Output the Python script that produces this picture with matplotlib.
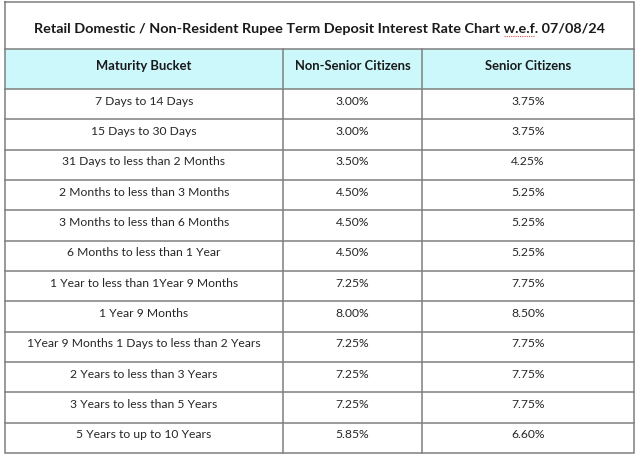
import matplotlib
matplotlib.use("Agg")
import matplotlib.pyplot as plt
from matplotlib.patches import Rectangle

title = "Retail Domestic / Non-Resident Rupee Term Deposit Interest Rate Chart w.e.f. 07/08/24"
headers = ["Maturity Bucket", "Non-Senior Citizens", "Senior Citizens"]
buckets = [
    "7 Days to 14 Days",
    "15 Days to 30 Days",
    "31 Days to less than 2 Months",
    "2 Months to less than 3 Months",
    "3 Months to less than 6 Months",
    "6 Months to less than 1 Year",
    "1 Year to less than 1Year 9 Months",
    "1 Year 9 Months",
    "1Year 9 Months 1 Days to less than 2 Years",
    "2 Years to less than 3 Years",
    "3 Years to less than 5 Years",
    "5 Years to up to 10 Years",
]
non_senior = [3.00, 3.00, 3.50, 4.50, 4.50, 4.50, 7.25, 8.00, 7.25, 7.25, 7.25, 5.85]
senior = [3.75, 3.75, 4.25, 5.25, 5.25, 5.25, 7.75, 8.50, 7.75, 7.75, 7.75, 6.60]

FONT = ["Lato", "DejaVu Sans"]
W, H = 640, 460
fig = plt.figure(figsize=(W / 100, H / 100), dpi=100)
ax = fig.add_axes([0, 0, 1, 1])
ax.set_xlim(0, W)
ax.set_ylim(H, 0)
ax.axis("off")

left, right = 5, 634
top, head_top, head_bot, bottom = 3, 50, 90, 454
cols = [left, 283, 422, right]
n = len(buckets)
rh = (bottom - head_bot) / n
line_c = "#7f7f7f"
lw = 1.1

# header fill
ax.add_patch(Rectangle((left, head_top), right - left, head_bot - head_top,
                       facecolor="#CCF7FB", edgecolor="none", zorder=0))

# title
ax.text((left + right) / 2, 29, title, ha="center", va="center",
        fontsize=10.4, fontweight="bold", color="#1a1a1a", family=FONT)

# headers
for i, h in enumerate(headers):
    cx = (cols[i] + cols[i + 1]) / 2
    ax.text(cx, 66, h, ha="center", va="center", fontsize=9.4,
            fontweight="bold", color="#1a1a1a", family=FONT)

# rows
for r in range(n):
    y = head_bot + r * rh + rh / 2 - 4
    vals = [buckets[r], f"{non_senior[r]:.2f}%", f"{senior[r]:.2f}%"]
    for i, v in enumerate(vals):
        cx = (cols[i] + cols[i + 1]) / 2
        ax.text(cx, y, v, ha="center", va="center", fontsize=8.75,
                color="#262626", family=FONT)

# grid lines
ax.plot([left, right, right, left, left], [top, top, bottom, bottom, top],
        color=line_c, lw=lw, solid_joinstyle="miter")
ax.plot([left, right], [head_top, head_top], color=line_c, lw=lw)
for r in range(n):
    yy = head_bot + r * rh
    ax.plot([left, right], [yy, yy], color=line_c, lw=lw)
for x in cols[1:-1]:
    ax.plot([x, x], [head_top, bottom], color=line_c, lw=lw)

# spell-check squiggle under "w.e.f."
ax.plot([504, 535], [37, 37], color="#e05050", lw=0.8, ls=(0, (1, 1)))

fig.savefig("out.png", dpi=100)
